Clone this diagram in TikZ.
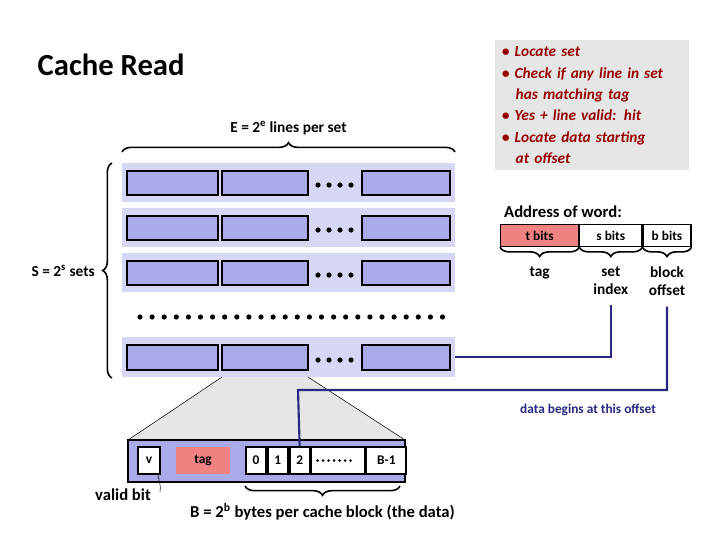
\documentclass[tikz,border=0pt]{standalone}
\usepackage{fontspec}
\setmainfont{Carlito}
\usetikzlibrary{decorations.pathreplacing, positioning}
\definecolor{rowbg}{RGB}{214,214,245}
\definecolor{cellbg}{RGB}{170,170,232}
\definecolor{tagpink}{RGB}{240,130,130}
\definecolor{notegray}{RGB}{230,230,230}
\definecolor{navy}{RGB}{40,40,130}
\definecolor{darkred}{RGB}{150,0,0}
\begin{document}
\begin{tikzpicture}[x=0.75pt,y=-0.75pt,
  font=\fontsize{11.5}{13}\selectfont\bfseries,
  row/.style={fill=rowbg, draw=none},
  cell/.style={fill=cellbg, draw=black, line width=1.6pt},
  fld/.style={draw=black, line width=0.9pt, minimum height=22*0.75pt, inner sep=0pt, font=\fontsize{10}{12}\selectfont\bfseries},
  brc/.style={decorate, decoration={brace, amplitude=7pt}, line width=1.2pt},
  wire/.style={draw=navy, line width=1.6pt},
  dot/.style={fill=black}]
  \useasboundingbox (0,0) rectangle (720,540);

  \node[font=\fontsize{23}{26}\selectfont\bfseries, anchor=west] (title) at (33,65) {Cache Read};

  % rows of lines
  \foreach \r/\ya/\yb in {1/163/202, 2/208/247, 3/253/292, 4/337/377} {
    \path[row] (122,\ya) rectangle (455,\yb);
    \path[cell] (127,\ya+8) rectangle (218,\yb-7);
    \path[cell] (222,\ya+8) rectangle (308,\yb-7);
    \path[cell] (362,\ya+8) rectangle (450,\yb-7);
    \foreach \x in {318,329,340,351} \fill[dot] (\x,\yb-17) circle (2.6);
  }
  \foreach \i in {0,...,25} \fill[dot] (140+\i*12.1,317) circle (2.6);
  \coordinate (rowend) at (455,357);

  % braces
  \draw[brc] (122,152) -- (455,152) node[midway, above=9pt] (lines) {E = 2\textsuperscript{e} lines per set};
  \draw[brc] (112,378) -- (112,163) node[midway, left=9pt] (sets) {S = 2\textsuperscript{s} sets};

  % note box
  \node[fill=notegray, text width=180*0.75pt, inner sep=5pt, anchor=north west,
        font=\fontsize{11.5}{16}\selectfont\bfseries\itshape, text=darkred, align=left] (note) at (495,40)
    {\textbullet\ Locate set\\
     \textbullet\ Check if any line in set\\\hspace*{0.9em}has matching tag\\
     \textbullet\ Yes + line valid: hit\\
     \textbullet\ Locate data starting\\\hspace*{0.9em}at offset};

  % address
  \node[font=\fontsize{12.5}{14}\selectfont\bfseries] (addr) at (563,212) {Address of word:};
  \node[fld, fill=tagpink, minimum width=78*0.75pt, anchor=north west] (tb) at (500,224) {t bits};
  \node[fld, minimum width=62*0.75pt, right=0pt of tb] (sb) {s bits};
  \node[fld, minimum width=48*0.75pt, right=0pt of sb] (bb) {b bits};
  \draw[brc, decoration={mirror}] (tb.south west) -- (tb.south east) node[midway, below=11pt] (ltag) {tag};
  \draw[brc, decoration={mirror}] (sb.south west) -- (sb.south east) node[midway, below=11pt, align=center] (lset) {set\\index};
  \draw[brc, decoration={mirror}] (bb.south west) -- (bb.south east) node[midway, below=11pt, align=center] (lblk) {block\\offset};

  % zoomed line
  \fill[notegray] (222,377) -- (308,377) -- (405,440) -- (128,440) -- cycle;
  \draw[line width=0.4pt] (222,377) -- (128,440);
  \draw[line width=0.4pt] (308,377) -- (405,440);
  \path[cell] (128,440) rectangle (405,482);
  \tikzset{bx/.style={fld, fill=white, minimum height=27*0.75pt, line width=1.4pt}}
  \node[bx, minimum width=22*0.75pt] (v) at (149,460.5) {v};
  \node[fld, fill=tagpink, draw=none, minimum width=54*0.75pt, minimum height=27*0.75pt] (tg) at (203,460.5) {tag};
  \node[bx, minimum width=20*0.75pt, anchor=west] (b0) at (245,460.5) {0};
  \node[bx, minimum width=20*0.75pt, right=0pt of b0] (b1) {1};
  \node[bx, minimum width=20*0.75pt, right=0pt of b1] (b2) {2};
  \node[bx, minimum width=53*0.75pt, right=0pt of b2] (bd) {};
  \foreach \i in {0,...,6} \fill[dot] ([xshift=(7+\i*5.5)*0.75pt]bd.west) circle (1.4);
  \node[bx, minimum width=40*0.75pt, right=0pt of bd] (bl) {B-1};

  \node[font=\fontsize{12.5}{14}\selectfont\bfseries] (valid) at (123,495) {valid bit};
  \draw[line width=0.4pt] ([xshift=-3*0.75pt]v.south east) to[out=-80,in=80] (160,492);
  \coordinate (bl0) at (245,486);
  \coordinate (bl1) at (400,486);
  \draw[brc, decoration={mirror}] (bl0) -- (bl1) node[midway, below=9pt, font=\fontsize{12.5}{14}\selectfont\bfseries] (bsize) {B = 2\textsuperscript{b} bytes per cache block (the data)};

  % wires
  \draw[wire] (rowend) -| ([yshift=-6*0.75pt]lset.south);
  \draw[wire] ([yshift=-6*0.75pt]lblk.south) |- (298,390) -- (b2.north);
  \node[font=\fontsize{10}{12}\selectfont\bfseries, text=navy] (begins) at (588,410) {data begins at this offset};
\end{tikzpicture}
\end{document}
